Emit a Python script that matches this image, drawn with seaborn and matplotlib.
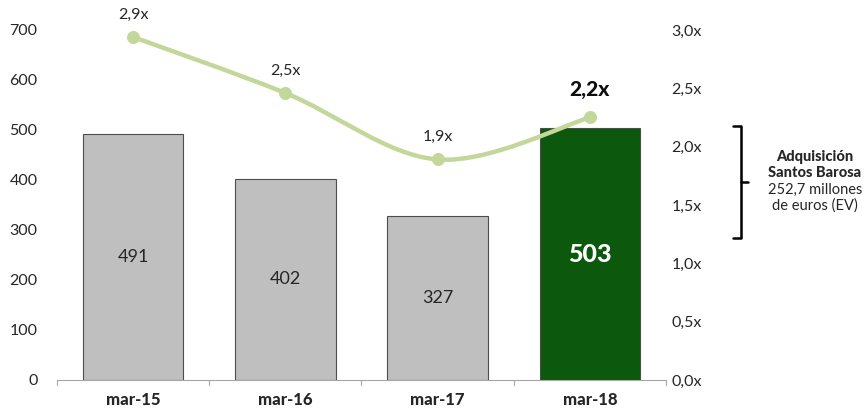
import numpy as np
import pandas as pd
import matplotlib
matplotlib.use("Agg")
import matplotlib.pyplot as plt
import seaborn as sns
from matplotlib.path import Path
from matplotlib.patches import PathPatch

periods = ["mar-15", "mar-16", "mar-17", "mar-18"]
bar_values = [491, 402, 327, 503]
ratio_values = [2.94, 2.46, 1.89, 2.25]
ratio_labels = ["2,9x", "2,5x", "1,9x", "2,2x"]
left_ticks = [0, 100, 200, 300, 400, 500, 600, 700]
right_ticks = [0.0, 0.5, 1.0, 1.5, 2.0, 2.5, 3.0]
right_tick_labels = ["0,0x", "0,5x", "1,0x", "1,5x", "2,0x", "2,5x", "3,0x"]
note_lines = ["Adquisición", "Santos Barosa", "252,7 millones", "de euros (EV)"]

gray = "#BFBFBF"
green = "#006400"
line_green = "#C4D79B"

sns.set_style("white")
plt.rcParams["font.family"] = ["Lato", "DejaVu Sans"]

df = pd.DataFrame({"period": periods, "value": bar_values})

fig = plt.figure(figsize=(8.66, 4.12), dpi=100)
ax = fig.add_axes([0.0658, 0.0777, 0.7032, 0.8495])

sns.barplot(data=df, x="period", y="value", hue="period",
            palette=[gray, gray, gray, green], width=0.66,
            edgecolor="#4D4D4D", linewidth=0.8, legend=False, ax=ax)
ax.set_ylim(0, 700)
ax.set_xlim(-0.5, 3.5)
ax.set_yticks(left_ticks)
ax.tick_params(axis="y", length=0, labelsize=11.5, pad=14)
ax.set_xticks(range(len(periods)))
ax.set_xticklabels(periods, fontsize=12, fontweight="black")
ax.tick_params(axis="x", length=0, pad=9)
ax.set_xlabel("")
ax.set_ylabel("")
for s in ["top", "left", "right"]:
    ax.spines[s].set_visible(False)
ax.spines["bottom"].set_color("#A6A6A6")

# category separators on the axis
for b in np.arange(-0.5, 4.0, 1.0):
    ax.plot([b, b], [0, -10], color="#A6A6A6", lw=0.8, clip_on=False)

# bar value labels
for i, v in enumerate(bar_values):
    if i == 3:
        ax.text(i, v / 2, str(v), ha="center", va="center", color="white",
                fontsize=18, fontweight="black")
    else:
        ax.text(i, v / 2, str(v), ha="center", va="center", color="#262626",
                fontsize=13)

# secondary axis with smoothed ratio line
ax2 = ax.twinx()
ax2.set_ylim(0, 3.0)
ax2.set_yticks(right_ticks)
ax2.set_yticklabels(right_tick_labels)
ax2.tick_params(axis="y", length=0, labelsize=11.5, pad=4)
for s in ["top", "left", "right", "bottom"]:
    ax2.spines[s].set_visible(False)

xs = np.arange(len(ratio_values), dtype=float)
ys = np.array(ratio_values)
px = np.concatenate([[xs[0]], xs, [xs[-1]]])
py = np.concatenate([[ys[0]], ys, [ys[-1]]])
verts = [(xs[0], ys[0])]
codes = [Path.MOVETO]
for k in range(1, len(px) - 2):
    c1 = (px[k] + (px[k + 1] - px[k - 1]) / 6, py[k] + (py[k + 1] - py[k - 1]) / 6)
    c2 = (px[k + 1] - (px[k + 2] - px[k]) / 6, py[k + 1] - (py[k + 2] - py[k]) / 6)
    verts += [c1, c2, (px[k + 1], py[k + 1])]
    codes += [Path.CURVE4] * 3
ax2.add_patch(PathPatch(Path(verts, codes), facecolor="none",
                        edgecolor=line_green, lw=3.2, capstyle="round"))
sns.scatterplot(x=xs, y=ys, color=line_green, s=75, edgecolor=line_green,
                zorder=5, ax=ax2, legend=False)

for i, (v, lab) in enumerate(zip(ratio_values, ratio_labels)):
    if i == 3:
        ax2.annotate(lab, (i, v), xytext=(0, 13), textcoords="offset points",
                     ha="center", va="bottom", fontsize=15, fontweight="black",
                     color="#0D0D0D")
    else:
        ax2.annotate(lab, (i, v), xytext=(0, 11), textcoords="offset points",
                     ha="center", va="bottom", fontsize=11.5, color="#262626")

# bracket + note
W, H = 866, 412
def fx(p):
    return p / W
def fy(p):
    return 1 - p / H
bx = 741
fig.add_artist(plt.Line2D([fx(733), fx(bx), fx(bx), fx(733)],
                          [fy(126), fy(126), fy(238), fy(238)],
                          color="black", lw=1.8))
fig.add_artist(plt.Line2D([fx(bx), fx(748)], [fy(182), fy(182)],
                          color="black", lw=1.8))
ys_note = [157, 173, 190, 206]
for j, (t, yy) in enumerate(zip(note_lines, ys_note)):
    fig.text(fx(815), fy(yy), t, ha="center", va="center", fontsize=10.5,
             fontweight="black" if j < 2 else "normal", color="#262626")

fig.savefig("out.png", dpi=100)
